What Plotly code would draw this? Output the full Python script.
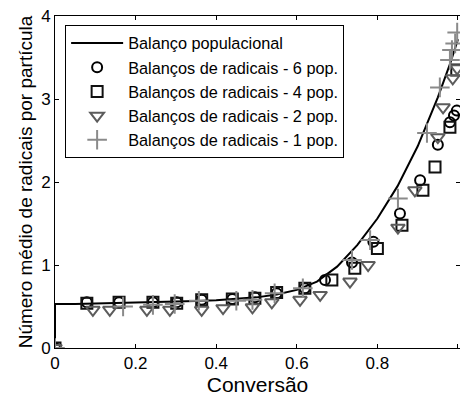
import plotly.graph_objects as go

# Population balance curve (conversion vs. average radicals per particle)
conv_line = [0.0, 0.0, 0.05, 0.10, 0.15, 0.20, 0.25, 0.30, 0.35, 0.40, 0.45, 0.50,
             0.55, 0.60, 0.65, 0.70, 0.75, 0.80, 0.85, 0.90, 0.95, 0.98, 1.00]
nbar_line = [0.0, 0.53, 0.53, 0.535, 0.54, 0.545, 0.55, 0.555, 0.565, 0.575, 0.59, 0.61,
             0.645, 0.70, 0.80, 0.98, 1.24, 1.56, 1.95, 2.43, 3.02, 3.42, 3.72]

# Radical balances, 6 populations
conv_6 = [0.0, 0.079, 0.159, 0.243, 0.302, 0.364, 0.44, 0.496, 0.55, 0.62, 0.67,
          0.737, 0.79, 0.856, 0.906, 0.95, 0.98, 0.99, 0.997]
nbar_6 = [0.0, 0.55, 0.55, 0.55, 0.55, 0.58, 0.59, 0.61, 0.66, 0.72, 0.82,
          1.03, 1.28, 1.62, 2.02, 2.45, 2.72, 2.80, 2.86]

# Radical balances, 4 populations
conv_4 = [0.0, 0.079, 0.159, 0.243, 0.302, 0.364, 0.44, 0.496, 0.55, 0.62, 0.687,
          0.744, 0.80, 0.861, 0.913, 0.943, 0.98, 0.997]
nbar_4 = [0.0, 0.54, 0.55, 0.55, 0.54, 0.58, 0.59, 0.60, 0.67, 0.72, 0.82,
          0.96, 1.20, 1.48, 1.90, 2.18, 2.66, 3.35]

# Radical balances, 2 populations
conv_2 = [0.0, 0.094, 0.136, 0.228, 0.285, 0.364, 0.417, 0.49, 0.538, 0.608, 0.658,
          0.732, 0.777, 0.851, 0.893, 0.95, 0.963, 0.987, 0.998]
nbar_2 = [0.0, 0.46, 0.46, 0.46, 0.46, 0.46, 0.48, 0.49, 0.55, 0.58, 0.64,
          0.80, 1.00, 1.45, 1.90, 2.54, 2.90, 3.25, 3.37]

# Radical balances, 1 population
conv_1 = [0.0, 0.169, 0.243, 0.297, 0.357, 0.45, 0.49, 0.545, 0.615, 0.737, 0.782,
          0.851, 0.923, 0.955, 0.98, 0.985, 0.993, 0.998]
nbar_1 = [0.0, 0.50, 0.52, 0.53, 0.57, 0.57, 0.58, 0.66, 0.72, 1.06, 1.30,
          1.80, 2.59, 3.14, 3.47, 3.59, 3.67, 3.80]

x_ticks = [0, 0.2, 0.4, 0.6, 0.8, 1]
x_ticklabels = ["0", "0.2", "0.4", "0.6", "0.8", "1"]
y_ticks = [0, 1, 2, 3, 4]

FONT = "Liberation Sans, Arial, sans-serif"

fig = go.Figure()

fig.add_trace(go.Scatter(
    x=conv_line, y=nbar_line, mode="lines", name="Balanço populacional",
    line=dict(color="black", width=2)))

marker_specs = [
    (conv_6, nbar_6, "Balanços de radicais - 6 pop.", "circle-open", "#000000", 10),
    (conv_4, nbar_4, "Balanços de radicais - 4 pop.", "square-open", "#111111", 11),
    (conv_2, nbar_2, "Balanços de radicais - 2 pop.", "triangle-down-open", "#5c5c5c", 12),
    (conv_1, nbar_1, "Balanços de radicais - 1 pop.", "cross-thin-open", "#8a8a8a", 14),
]
for xs, ys, name, sym, col, size in marker_specs:
    fig.add_trace(go.Scatter(
        x=xs, y=ys, mode="markers", name=name,
        marker=dict(symbol=sym, size=size, color=col,
                    line=dict(color=col, width=2))))

fig.update_layout(
    width=460, height=400,
    margin=dict(l=55, r=0, t=16, b=52),
    paper_bgcolor="white", plot_bgcolor="white",
    font=dict(family=FONT, size=17, color="black"),
    showlegend=True,
    legend=dict(
        x=0.025, y=0.973, xanchor="left", yanchor="top",
        bgcolor="white", bordercolor="black", borderwidth=1,
        font=dict(family=FONT, size=16.3, color="black"),
        traceorder="normal", itemwidth=52,
        entrywidth=240, entrywidthmode="pixels",
    ),
)

fig.update_xaxes(
    range=[0, 1.005], tickvals=x_ticks, ticktext=x_ticklabels,
    showgrid=False, zeroline=False, showline=True, linecolor="black", linewidth=1,
    mirror="ticks", ticks="inside", ticklen=4, tickcolor="black",
    tickfont=dict(family=FONT, size=17),
    title=dict(text="Conversão", font=dict(family=FONT, size=21), standoff=2),
)
fig.update_yaxes(
    range=[0, 4], tickvals=y_ticks,
    showgrid=False, zeroline=False, showline=True, linecolor="black", linewidth=1,
    mirror="ticks", ticks="inside", ticklen=4, tickcolor="black",
    tickfont=dict(family=FONT, size=17),
    title=dict(text="Número médio de radicais por partícula",
               font=dict(family=FONT, size=19), standoff=3),
)

fig.write_html("out.html")
